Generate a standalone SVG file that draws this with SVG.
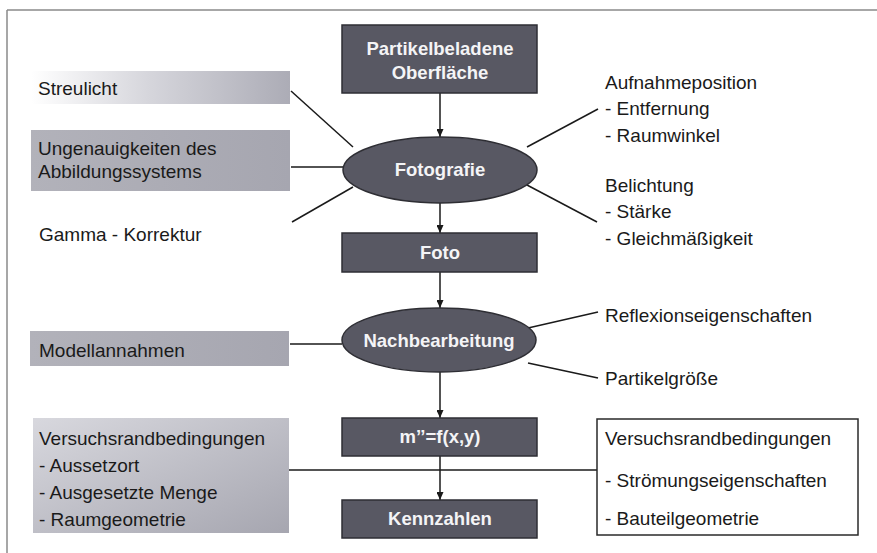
<svg xmlns="http://www.w3.org/2000/svg" width="877" height="553" viewBox="0 0 877 553">
<defs>
<style>
.t{font-family:"Liberation Sans",Arial,sans-serif;font-size:19px;fill:#1a1a1a}
.w{font-family:"Liberation Sans",Arial,sans-serif;font-size:18.5px;font-weight:bold;fill:#f4f4f6;text-anchor:middle}
.dk{fill:#585863;stroke:#2e2e34;stroke-width:1.5}
.ln{stroke:#1a1a1a;stroke-width:1.5;fill:none}
</style>
<linearGradient id="gStreu" x1="0" y1="0" x2="1" y2="0">
<stop offset="0" stop-color="#ffffff"/>
<stop offset="0.45" stop-color="#d6d6dc"/>
<stop offset="1" stop-color="#acacb6"/>
</linearGradient>
<linearGradient id="gGray" x1="0" y1="0" x2="1" y2="0">
<stop offset="0" stop-color="#b2b2ba"/>
<stop offset="1" stop-color="#a6a6b0"/>
</linearGradient>
<linearGradient id="gVers" x1="0" y1="0" x2="1" y2="1">
<stop offset="0" stop-color="#d8d8de"/>
<stop offset="1" stop-color="#a6a6b0"/>
</linearGradient>
<marker id="arr" markerWidth="8" markerHeight="7" refX="8" refY="3.5" orient="auto" markerUnits="userSpaceOnUse">
<path d="M0,0 L8,3.5 L0,7 z" fill="#1a1a1a"/>
</marker>
</defs>
<rect x="0" y="0" width="877" height="553" fill="#ffffff"/>
<g id="frame" stroke="#8a8a8a" stroke-width="1.5" fill="none">
<line x1="7" y1="10" x2="877" y2="10"/>
<line x1="7" y1="10" x2="7" y2="553"/>
</g>
<g id="connectors">
<line class="ln" x1="440" y1="93" x2="440" y2="137" marker-end="url(#arr)"/>
<line class="ln" x1="440" y1="203" x2="440" y2="233" marker-end="url(#arr)"/>
<line class="ln" x1="440" y1="272" x2="440" y2="308" marker-end="url(#arr)"/>
<line class="ln" x1="440" y1="372" x2="440" y2="418" marker-end="url(#arr)"/>
<line class="ln" x1="440" y1="456" x2="440" y2="500" marker-end="url(#arr)"/>
<line class="ln" x1="291" y1="91" x2="353" y2="147"/>
<line class="ln" x1="291" y1="167" x2="343" y2="167"/>
<line class="ln" x1="292" y1="222" x2="353" y2="187"/>
<line class="ln" x1="527" y1="147" x2="598" y2="109"/>
<line class="ln" x1="527" y1="185" x2="597" y2="222"/>
<line class="ln" x1="290" y1="344" x2="342" y2="344"/>
<line class="ln" x1="528" y1="328" x2="598" y2="312"/>
<line class="ln" x1="528" y1="363" x2="598" y2="378"/>
<line class="ln" x1="289" y1="470" x2="597" y2="470"/>
</g>
<g id="n-partikel">
<rect class="dk" x="342" y="25" width="195" height="68"/>
<text class="w" x="440" y="55">Partikelbeladene</text>
<text class="w" x="440" y="79">Oberfläche</text>
</g>
<g id="n-streulicht">
<rect x="31" y="71" width="259" height="33" fill="url(#gStreu)"/>
<text class="t" x="38" y="95">Streulicht</text>
</g>
<g id="n-ungenau">
<rect x="31" y="130" width="259" height="61" fill="url(#gGray)"/>
<text class="t" x="38" y="155">Ungenauigkeiten des</text>
<text class="t" x="38" y="178">Abbildungssystems</text>
</g>
<g id="n-gamma">
<text class="t" x="39" y="241">Gamma - Korrektur</text>
</g>
<g id="n-fotografie">
<ellipse class="dk" cx="440" cy="170" rx="97" ry="33"/>
<text class="w" x="440" y="176">Fotografie</text>
</g>
<g id="n-aufnahme">
<text class="t" x="605" y="89">Aufnahmeposition</text>
<text class="t" x="605" y="115">- Entfernung</text>
<text class="t" x="605" y="142">- Raumwinkel</text>
</g>
<g id="n-belichtung">
<text class="t" x="605" y="192">Belichtung</text>
<text class="t" x="605" y="218">- Stärke</text>
<text class="t" x="605" y="245">- Gleichmäßigkeit</text>
</g>
<g id="n-foto">
<rect class="dk" x="342" y="233" width="195" height="39"/>
<text class="w" x="440" y="259">Foto</text>
</g>
<g id="n-nachbearbeitung">
<ellipse class="dk" cx="439" cy="340" rx="97" ry="32"/>
<text class="w" x="439" y="347">Nachbearbeitung</text>
</g>
<g id="n-modell">
<rect x="30" y="331" width="259" height="35" fill="url(#gGray)"/>
<text class="t" x="39" y="357">Modellannahmen</text>
</g>
<g id="n-reflexion">
<text class="t" x="605" y="322">Reflexionseigenschaften</text>
</g>
<g id="n-partikelgroesse">
<text class="t" x="605" y="385">Partikelgröße</text>
</g>
<g id="n-mf">
<rect class="dk" x="342" y="418" width="195" height="38"/>
<text class="w" x="440" y="443">m’’=f(x,y)</text>
</g>
<g id="n-kennzahlen">
<rect class="dk" x="342" y="500" width="195" height="38"/>
<text class="w" x="440" y="525">Kennzahlen</text>
</g>
<g id="n-vers-left">
<rect x="33" y="418" width="256" height="115" fill="url(#gVers)"/>
<text class="t" x="39" y="445">Versuchsrandbedingungen</text>
<text class="t" x="39" y="472">- Aussetzort</text>
<text class="t" x="39" y="499">- Ausgesetzte Menge</text>
<text class="t" x="39" y="526">- Raumgeometrie</text>
</g>
<g id="n-vers-right">
<rect x="597" y="419" width="261" height="116" fill="#ffffff" stroke="#2a2a2a" stroke-width="1.5"/>
<text class="t" x="605" y="445">Versuchsrandbedingungen</text>
<text class="t" x="605" y="487">- Strömungseigenschaften</text>
<text class="t" x="605" y="525">- Bauteilgeometrie</text>
</g>
</svg>
